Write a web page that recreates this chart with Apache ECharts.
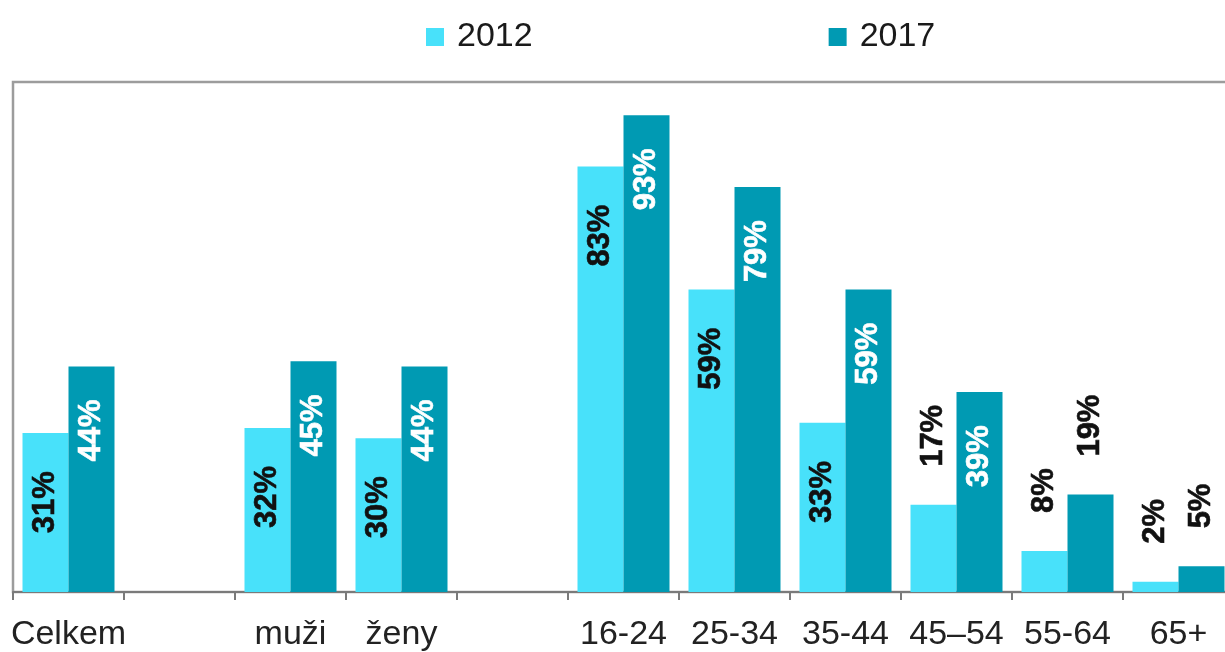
<!DOCTYPE html>
<html>
<head>
<meta charset="utf-8">
<script src="https://cdn.jsdelivr.net/npm/echarts@6/dist/echarts.min.js"></script>
<style>
html,body{margin:0;padding:0;background:#fff;overflow:hidden;width:1225px;height:652px;}
#chart{width:1236px;height:652px;}
</style>
</head>
<body>
<div id="chart"></div>
<script>
const categories = ['Celkem', '', 'muži', 'ženy', '', '16-24', '25-34', '35-44', '45–54', '55-64', '65+'];
const values2012 = [31, null, 32, 30, null, 83, 59, 33, 17, 8, 2];
const values2017 = [44, null, 45, 44, null, 93, 79, 59, 39, 19, 5];
const seriesNames = ['2012', '2017'];

const LIGHT = '#48E1FA';
const DARK = '#009AB3';
const FONT = '"Liberation Sans", Arial, sans-serif';

function makeData(vals, isDark) {
  return vals.map(v => {
    if (v == null) return null;
    const inside = v >= 25;
    const col = inside && isDark ? '#ffffff' : '#111111';
    const label = inside ? {
      position: 'insideTop',
      distance: isDark ? 33 : 38,
      align: 'right',
      verticalAlign: 'middle',
      color: col,
      textBorderColor: col,
      textBorderWidth: 0.6
    } : {
      position: 'top',
      distance: 38,
      align: 'left',
      verticalAlign: 'middle',
      color: col,
      textBorderColor: col,
      textBorderWidth: 0.6
    };
    return { value: v, label: label };
  });
}

const chart = echarts.init(document.getElementById('chart'), null, { renderer: 'canvas' });
chart.setOption({
  animation: false,
  backgroundColor: '#ffffff',
  legend: {
    data: seriesNames,
    left: 421,
    top: 15,
    itemWidth: 18,
    itemHeight: 18,
    itemGap: 296,
    icon: 'rect',
    textStyle: { fontFamily: FONT, fontSize: 34, color: '#1a1a1a', padding: [0, 0, 0, 8] }
  },
  grid: {
    left: 13,
    top: 82,
    width: 1221,
    height: 511,
    show: true,
    borderColor: '#9c9c9c',
    borderWidth: 2.5,
    containLabel: false
  },
  xAxis: {
    type: 'category',
    data: categories,
    axisLine: { show: true, lineStyle: { color: '#7a7a7a', width: 2 } },
    axisTick: { show: true, length: 8, lineStyle: { color: '#7a7a7a', width: 2 } },
    axisLabel: { margin: 26, fontFamily: FONT, fontSize: 34, color: '#222222', interval: 0 }
  },
  yAxis: {
    type: 'value',
    min: 0,
    max: 99.5,
    show: false,
    splitLine: { show: false }
  },
  series: [
    {
      name: seriesNames[0],
      type: 'bar',
      data: makeData(values2012, false),
      barWidth: 46,
      barGap: '0%',
      itemStyle: { color: LIGHT },
      label: {
        show: true,
        rotate: 90,
        formatter: '{c}%',
        fontFamily: FONT,
        fontWeight: 'bold',
        fontSize: 31
      }
    },
    {
      name: seriesNames[1],
      type: 'bar',
      data: makeData(values2017, true),
      barWidth: 46,
      barGap: '0%',
      itemStyle: { color: DARK },
      label: {
        show: true,
        rotate: 90,
        formatter: '{c}%',
        fontFamily: FONT,
        fontWeight: 'bold',
        fontSize: 31
      }
    }
  ]
});
</script>
</body>
</html>
